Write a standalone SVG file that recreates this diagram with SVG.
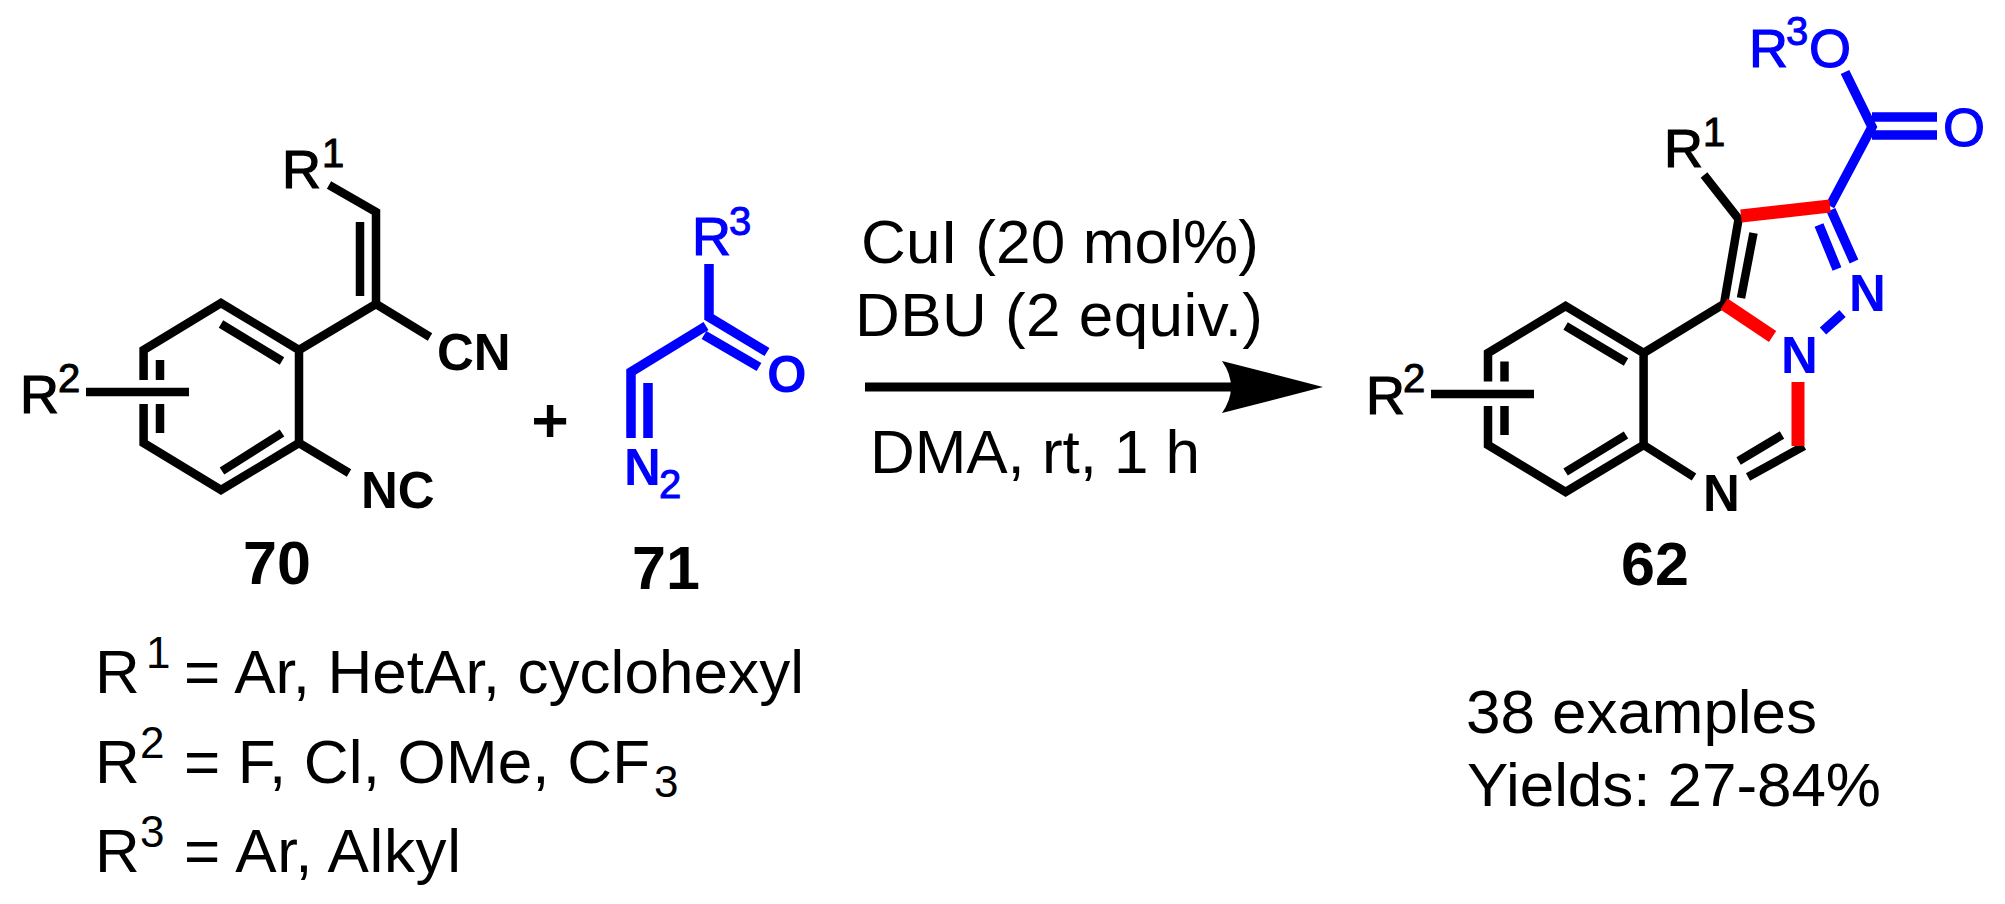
<svg xmlns="http://www.w3.org/2000/svg" width="2005" height="904" viewBox="0 0 2005 904">
<style>
text{font-family:"Liberation Sans",Arial,sans-serif;fill:#000}
.a{font-size:54px;stroke:#000;stroke-width:1.2}.s{font-size:40px;stroke:#000;stroke-width:1}.b{font-size:51px;font-weight:bold}.n{font-size:61px;font-weight:bold}
.t{font-size:62px}.ts{font-size:44px}.a.blue,.s.blue{stroke:#0000ff}.blue{fill:#0000ff}
.k,.u,.r{fill:none;stroke-linecap:butt;stroke-linejoin:miter}
.k{stroke:#000;stroke-width:8.500}.u{stroke:#0000ff;stroke-width:9.500}.r{stroke:#ff0000;stroke-width:13}
</style>
<rect width="2005" height="904" fill="#fff"/>
<g id="connectors">
<path class="k" d="M143.600 380V350L221 303L299 350V443L221 490L143.600 443V404"/>
<path class="k" d="M221 324L282 361M222 471L282 433M160 360V380M160 404V433M86 392H189"/>
<path class="k" d="M299 350L376 304V212L329 185M360 222V296M376 304L430 337M299 443L349 473"/>
<path class="u" d="M709 264V317L767 352M704 335L759 367M706 326L631 372V438M648 383V438"/>
<path class="k" d="M1488 381.500V353L1565.600 306L1643.600 353V445L1565.600 492L1488 445V406"/>
<path class="k" d="M1565.600 326L1626 362M1565.600 472L1626 435M1504.500 361.500V381.500M1504.500 406V435M1431 394H1534"/>
<path class="k" d="M1643.600 353L1724 304L1738.600 219L1704 175M1753.500 233L1741 298M1643.600 445L1694 477M1804 446L1748 477M1782 435L1738.600 461"/>
<path class="u" d="M1830 206L1872 127L1845 72M1872 117H1937M1872 135H1937M1831 210L1854 261.500M1819 225L1837 269M1823 331L1842.500 313.500"/>
<path class="r" d="M1741 216L1830 206M1724 304L1772.600 336.500M1798 382V446"/>
<path id="arrow-shaft" class="k" style="stroke-width:9" d="M865 387H1236"/>
<path id="arrow-head" d="M1323 387L1222 361Q1240 387 1222 413Z" fill="#000"/>
</g>
<g id="node-70">
<text class="a" x="282" y="188">R</text><text class="s" x="322" y="167">1</text>
<text class="b" x="437" y="370">CN</text><text class="b" x="361" y="508">NC</text>
<text class="a" x="20" y="413">R</text><text class="s" x="58" y="392">2</text>
<text class="n" x="243" y="584">70</text>
</g>
<text id="plus" class="t" x="550" y="441" text-anchor="middle" style="stroke:#000;stroke-width:2">+</text>
<g id="node-71">
<text class="a blue" x="692" y="255">R</text><text class="s blue" x="729" y="235">3</text>
<text class="b blue" x="767" y="392">O</text>
<text class="b blue" x="624" y="485">N</text><text class="s blue" x="659" y="498">2</text>
<text class="n" x="632" y="589">71</text>
</g>
<g id="conditions">
<text class="t" x="861" y="263" textLength="398">CuI (20 mol%)</text>
<text class="t" x="855" y="336" textLength="408">DBU (2 equiv.)</text>
<text class="t" x="870" y="473" textLength="330">DMA, rt, 1 h</text>
</g>
<g id="node-62">
<text class="a" x="1664" y="167">R</text><text class="s" x="1703" y="146">1</text>
<text class="a" x="1366" y="414">R</text><text class="s" x="1403" y="392">2</text>
<text class="a blue" x="1749" y="67">R</text><text class="s blue" x="1786" y="45">3</text>
<text class="a blue" x="1809" y="67">O</text>
<text class="a blue" x="1943" y="146">O</text>
<text class="b blue" x="1849" y="311">N</text>
<text class="b blue" x="1781" y="373">N</text>
<text class="b" x="1703" y="511">N</text>
<text class="n" x="1621" y="585">62</text>
</g>
<g id="substituents">
<text class="t" x="95" y="693">R</text><text class="ts" x="146" y="668">1</text><text class="t" x="184" y="693" textLength="620">= Ar, HetAr, cyclohexyl</text>
<text class="t" x="95" y="783">R</text><text class="ts" x="140" y="758">2</text><text class="t" x="184" y="783" textLength="466">= F, Cl, OMe, CF</text><text class="ts" x="654" y="797">3</text>
<text class="t" x="95" y="872">R</text><text class="ts" x="140" y="847">3</text><text class="t" x="184" y="872" textLength="277">= Ar, Alkyl</text>
</g>
<g id="yields">
<text class="t" x="1466" y="733" textLength="351">38 examples</text>
<text class="t" x="1467" y="806" textLength="414">Yields: 27-84%</text>
</g>
</svg>
